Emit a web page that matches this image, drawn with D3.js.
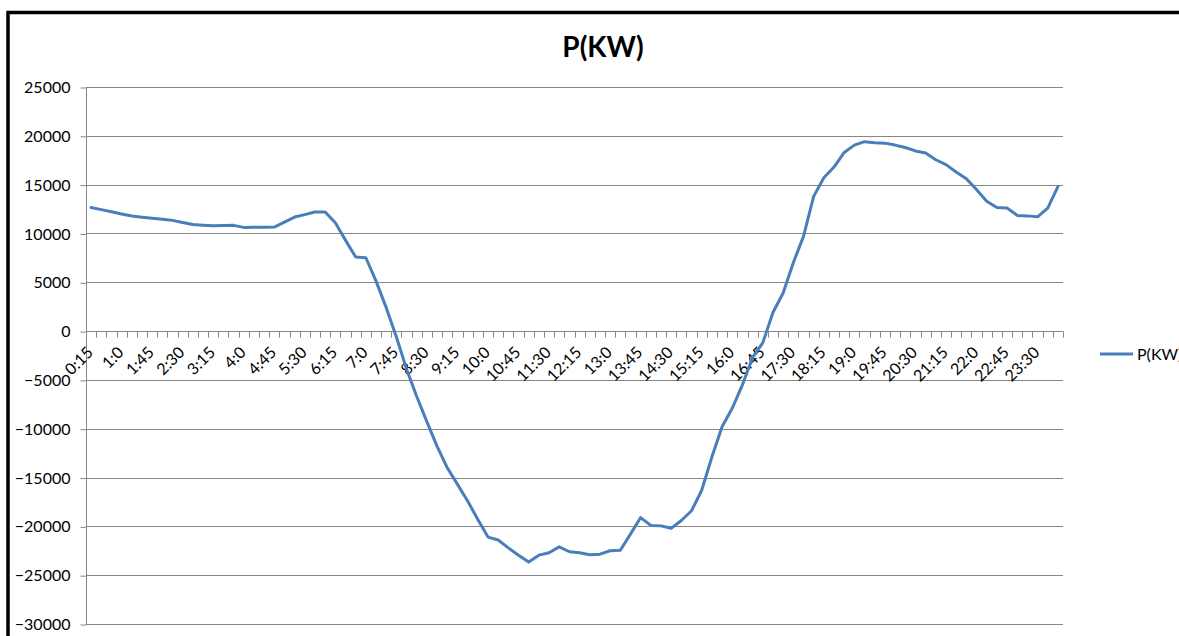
<!DOCTYPE html>
<html>
<head>
<meta charset="utf-8">
<script src="https://cdn.jsdelivr.net/npm/d3@7"></script>
<style>
  html, body { margin: 0; padding: 0; background: #fff; }
  svg { display: block; }
</style>
</head>
<body>
<div id="chart"></div>
<script>
// Quarter-hour categories 0:15 ... 24:0 (minutes written without zero padding)
const categories = [];
for (let m = 15; m <= 24 * 60; m += 15) {
  categories.push(Math.floor(m / 60) + ":" + (m % 60));
}

// Active power, kW, one value per quarter hour
const power = [
  12660, 12440, 12220, 12000, 11780, 11670, 11560, 11450, 11340, 11130,
  10920, 10850, 10790, 10810, 10830, 10620, 10630, 10640, 10650, 11160,
  11680, 11930, 12190, 12190, 11100, 9300, 7580, 7510, 5120, 2400,
  -600, -3900, -6700, -9300, -11800, -14000, -15700, -17400, -19300, -21100,
  -21400, -22200, -22950, -23650, -22950, -22700, -22100, -22600, -22700, -22900,
  -22850, -22500, -22450, -20800, -19100, -19900, -19950, -20200, -19400, -18400,
  -16300, -12900, -9800, -7900, -5500, -2700, -1200, 1900, 3900, 7000,
  9700, 13800, 15700, 16800, 18300, 19050, 19400, 19300, 19250, 19050,
  18800, 18450, 18250, 17550, 17050, 16300, 15600, 14500, 13300, 12650,
  12600, 11850, 11800, 11700, 12600, 14800
];

const yTicks = [25000, 20000, 15000, 10000, 5000, 0, -5000, -10000, -15000, -20000, -25000, -30000];
const xTickLabels = categories.filter((d, i) => i % 3 === 0 && i < 94);
const seriesName = "P(KW)";
const chartTitle = "P(KW)";

const W = 1179, H = 636;
const plot = { left: 86, right: 1063, top: 87, bottom: 624 };
const lineColor = "#4a7ebb";
const gridColor = "#868686";
const font = "Lato, 'Liberation Sans', sans-serif";

const svg = d3.select("#chart").append("svg")
  .attr("width", W).attr("height", H);

svg.append("rect").attr("width", W).attr("height", H).attr("fill", "#fff");

// outer chart frame
svg.append("rect")
  .attr("x", 8).attr("y", 12.5)
  .attr("width", W + 10).attr("height", H + 10)
  .attr("fill", "none").attr("stroke", "#000").attr("stroke-width", 3.5);

const x = d3.scaleBand().domain(categories).range([plot.left, plot.right]);
const y = d3.scaleLinear().domain([-30000, 25000]).range([plot.bottom, plot.top]);

// title
svg.append("text")
  .attr("x", 603).attr("y", 57)
  .attr("text-anchor", "middle")
  .attr("font-family", font).attr("font-weight", "bold")
  .attr("font-size", 28).attr("fill", "#000")
  .text(chartTitle);

// horizontal gridlines
svg.append("g").selectAll("line").data(yTicks).join("line")
  .attr("x1", plot.left).attr("x2", plot.right)
  .attr("y1", d => Math.round(y(d)) + 0.5).attr("y2", d => Math.round(y(d)) + 0.5)
  .attr("stroke", gridColor).attr("stroke-width", 1);

// value axis
const yAxis = svg.append("g")
  .attr("transform", `translate(${plot.left + 0.5},0.5)`)
  .call(d3.axisLeft(y).tickValues(yTicks).tickSize(6).tickPadding(10).tickFormat(d3.format("d")));
yAxis.select(".domain").attr("stroke", gridColor).attr("d", `M0,${y(25000)}V${y(-30000)}`);
yAxis.selectAll(".tick line").attr("stroke", gridColor);
yAxis.selectAll(".tick text")
  .attr("font-family", font).attr("font-size", 16).attr("fill", "#000");

// category axis along the zero line
const y0 = Math.round(y(0)) + 0.5;
const edges = categories.map(c => x(c)).concat([x.range()[1]]);
svg.append("g").selectAll("line").data(edges).join("line")
  .attr("x1", d => Math.round(d) + 0.5).attr("x2", d => Math.round(d) + 0.5)
  .attr("y1", y0).attr("y2", y0 + 6)
  .attr("stroke", gridColor).attr("stroke-width", 1);

const xAxis = svg.append("g")
  .attr("transform", `translate(0,${y0})`)
  .call(d3.axisBottom(x).tickValues(xTickLabels).tickSize(0).tickPadding(0));
xAxis.select(".domain").remove();
xAxis.selectAll(".tick text")
  .attr("font-family", font).attr("font-size", 16).attr("fill", "#000")
  .attr("text-anchor", "end")
  .attr("dy", null)
  .attr("x", 3).attr("y", 22)
  .attr("transform", "rotate(-45,3,22)");

// series line
const line = d3.line()
  .x((d, i) => x(categories[i]) + x.bandwidth() / 2)
  .y(d => y(d));

svg.append("path")
  .datum(power)
  .attr("d", line)
  .attr("fill", "none")
  .attr("stroke", lineColor)
  .attr("stroke-width", 3)
  .attr("stroke-linejoin", "round")
  .attr("stroke-linecap", "round");

// legend
const lg = svg.append("g").attr("transform", "translate(1100,354)");
lg.append("line").attr("x1", 0).attr("x2", 33).attr("y1", 0).attr("y2", 0)
  .attr("stroke", lineColor).attr("stroke-width", 3);
lg.append("text").attr("x", 37).attr("y", 6)
  .attr("font-family", font).attr("font-size", 16).attr("fill", "#000")
  .text(seriesName);
</script>
</body>
</html>
